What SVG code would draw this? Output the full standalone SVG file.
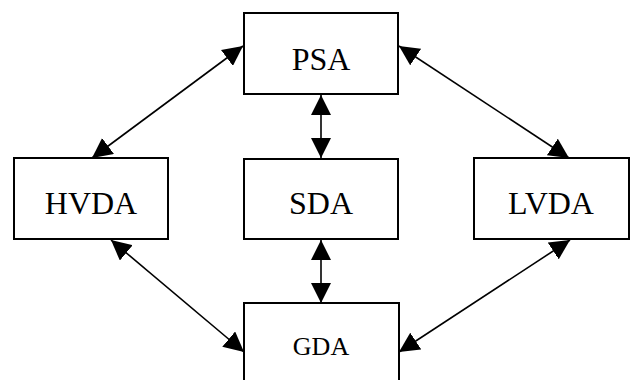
<svg xmlns="http://www.w3.org/2000/svg" width="631" height="380" viewBox="0 0 631 380">
<style>
.box{fill:#fff;stroke:#000;stroke-width:2}
.lbl{font-family:"Liberation Serif","Times New Roman",serif;font-size:32px;fill:#000;text-anchor:middle}
.conn{stroke:#000;stroke-width:1.6;fill:none;marker-start:url(#ah);marker-end:url(#ah)}
</style>
<defs>
<marker id="ah" markerUnits="userSpaceOnUse" markerWidth="20" markerHeight="20" refX="20" refY="10" orient="auto-start-reverse" viewBox="0 0 20 20">
<path d="M0,0 L20,10 L0,20 z" fill="#000"/>
</marker>
</defs>
<rect width="631" height="380" fill="#fff"/>
<g id="connectors">
<line class="conn" x1="243" y1="46" x2="92" y2="158"/>
<line class="conn" x1="399" y1="46" x2="569" y2="158"/>
<line class="conn" x1="321" y1="95" x2="321" y2="158"/>
<line class="conn" x1="321" y1="240" x2="321" y2="303"/>
<line class="conn" x1="111" y1="240" x2="244" y2="352"/>
<line class="conn" x1="570" y1="240" x2="399" y2="352"/>
</g>
<g id="PSA">
<rect class="box" x="244" y="13" width="154" height="81"/>
<text class="lbl" x="321" y="70">PSA</text>
</g>
<g id="HVDA">
<rect class="box" x="14" y="158" width="154" height="81"/>
<text class="lbl" x="91" y="214">HVDA</text>
</g>
<g id="SDA">
<rect class="box" x="244" y="159" width="154" height="80"/>
<text class="lbl" x="321" y="214">SDA</text>
</g>
<g id="LVDA">
<rect class="box" x="474" y="158" width="155" height="81"/>
<text class="lbl" x="551" y="214">LVDA</text>
</g>
<g id="GDA">
<rect class="box" x="244" y="303" width="155" height="90"/>
<text class="lbl" x="321" y="355" style="font-size:26px">GDA</text>
</g>
</svg>
